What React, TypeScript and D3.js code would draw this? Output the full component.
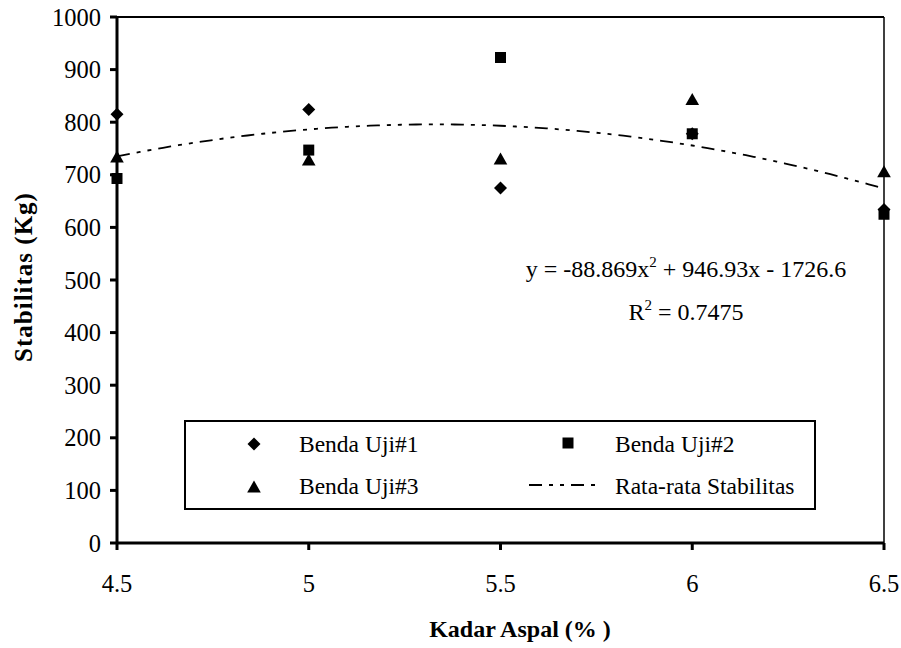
import React from "react";
import * as d3 from "d3";

const kadar = [4.5, 5, 5.5, 6, 6.5];
const uji1 = [815, 824, 675, 778, 634];
const uji2 = [693, 747, 923, 778, 625];
const uji3 = [734, 728, 730, 843, 706];
// trendline coefficients from the chart label: y = a x^2 + b x + c
const trendCoef = [-88.869, 946.93, -1726.6];
const yTicks = [0, 100, 200, 300, 400, 500, 600, 700, 800, 900, 1000];
const xTicks = [4.5, 5, 5.5, 6, 6.5];

const W = 901, H = 648;
const L = 117, R = 884, T = 17, B = 543;
const FONT = "Liberation Serif, Times New Roman, DejaVu Serif, serif";
const ts = { fontFamily: FONT };

const diamond = (s: number) => `M0,${-s}L${s},0L0,${s}L${-s},0Z`;
const square = (s: number) => `M${-s},${-s}H${s}V${s}H${-s}Z`;
const triangle = (s: number) => `M0,${-s}L${s * 1.05},${s * 0.85}L${-s * 1.05},${s * 0.85}Z`;

export default function App() {
  const x = d3.scaleLinear().domain([4.5, 6.5]).range([L, R]);
  const y = d3.scaleLinear().domain([0, 1000]).range([B, T]);

  const xs = d3.range(4.5, 6.5001, 0.02);
  const trend = xs.map((v) => [v, trendCoef[0] * v * v + trendCoef[1] * v + trendCoef[2]] as [number, number]);
  const line = d3.line<[number, number]>().x((d) => x(d[0])).y((d) => y(d[1]));
  const dash = "13,7,4,7,4,7";

  return (
    <svg width={W} height={H} style={{ position: "absolute", left: 0, top: 0, background: "#fff", fontFamily: FONT }}>
      <rect x={0} y={0} width={W} height={H} fill="#fff" />
      {/* frame */}
      <line x1={L} x2={R} y1={T} y2={T} stroke="#000" strokeWidth={2} />
      <line x1={R} x2={R} y1={T} y2={B} stroke="#000" strokeWidth={1.5} />
      <line x1={L} x2={R} y1={B} y2={B} stroke="#000" strokeWidth={3} />
      <line x1={L} x2={L} y1={T} y2={B} stroke="#000" strokeWidth={3} />
      {yTicks.map((t) => (
        <g key={"y" + t}>
          <line x1={L - 7} x2={L} y1={y(t)} y2={y(t)} stroke="#000" strokeWidth={3} />
          <text x={101} y={y(t)} dy="0.35em" textAnchor="end" fontSize={24.5} style={ts}>{t}</text>
        </g>
      ))}
      {xTicks.map((t) => (
        <g key={"x" + t}>
          <line x1={x(t)} x2={x(t)} y1={B} y2={B + 7} stroke="#000" strokeWidth={3} />
          <text x={x(t)} y={592} textAnchor="middle" fontSize={24.5} style={ts}>{t}</text>
        </g>
      ))}
      {/* trendline */}
      <path d={line(trend) || ""} fill="none" stroke="#000" strokeWidth={1.8} strokeDasharray={dash} />
      {/* points */}
      {kadar.map((k, i) => (
        <g key={"p" + i}>
          <path d={square(5.5)} transform={`translate(${x(k)},${y(uji2[i])})`} fill="#000" />
          <path d={diamond(6.5)} transform={`translate(${x(k)},${y(uji1[i])})`} fill="#000" />
          <path d={triangle(6.5)} transform={`translate(${x(k)},${y(uji3[i])})`} fill="#000" />
        </g>
      ))}
      {/* equation */}
      <text x={686} y={277} textAnchor="middle" fontSize={24} style={ts}>
        y = -88.869x<tspan dy={-10} fontSize={15}>2</tspan><tspan dy={10}> + 946.93x - 1726.6</tspan>
      </text>
      <text x={686} y={320} textAnchor="middle" fontSize={24} style={ts}>
        R<tspan dy={-10} fontSize={15}>2</tspan><tspan dy={10}> = 0.7475</tspan>
      </text>
      {/* legend */}
      <rect x={185} y={421} width={630} height={88} fill="#fff" stroke="#000" strokeWidth={2} />
      <path d={diamond(6.5)} transform="translate(254,444)" fill="#000" />
      <text x={299} y={452} fontSize={23.5} style={ts}>Benda Uji#1</text>
      <path d={triangle(6.5)} transform="translate(254,487)" fill="#000" />
      <text x={299} y={494} fontSize={23.5} style={ts}>Benda Uji#3</text>
      <path d={square(5.5)} transform="translate(568,443)" fill="#000" />
      <text x={615} y={452} fontSize={23.5} style={ts}>Benda Uji#2</text>
      <line x1={529} x2={600} y1={485} y2={485} stroke="#000" strokeWidth={1.8} strokeDasharray={dash} />
      <text x={615} y={494} fontSize={23.5} style={ts}>Rata-rata Stabilitas</text>
      {/* axis titles */}
      <text transform="translate(32,277) rotate(-90)" textAnchor="middle" fontSize={25} fontWeight="bold" letterSpacing={1} style={ts}>Stabilitas (Kg)</text>
      <text x={520} y={637} textAnchor="middle" fontSize={24} fontWeight="bold" style={ts}>Kadar Aspal (% )</text>
    </svg>
  );
}
